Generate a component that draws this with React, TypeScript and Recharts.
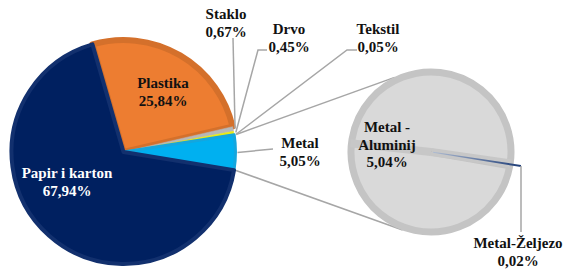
import { Cell, Customized, Pie, PieChart } from "recharts";

// main pie: clockwise from the Papir/Plastika boundary
const mainNames = ["Plastika", "Staklo", "Drvo", "Tekstil", "Metal", "Papir i karton"];
const mainValues = [25.84, 0.67, 0.45, 0.05, 5.05, 67.94];
const mainColors = ["#ED7D31", "#B7B7B7", "#E9E914", "#8C8C8C", "#00B0F0", "#002060"];
const mainBevel = ["#D4702B", "#B7B7B7", "#E9E914", "#8C8C8C", "#14A6DE", "#12306E"];
const mainBevelWidth = [6, 0.5, 0.5, 0.5, 3, 4];

// second pie: split of Metal
const metalNames = ["Metal -\nAluminij", "Metal-Željezo"];
const metalValues = [5.04, 0.02];
const metalColors = ["#D9D9D9", "#1F3E78"];

const FONT = '"Liberation Serif", "Times New Roman", serif';
const W = 564;
const H = 271;

const MAIN = { cx: 123.5, cy: 152, r: 112, start: 106.1 };
const SUB = { cx: 431, cy: 152, r: 80, start: 350.1 };
const LH = 17.5;
const GREY = "#A6A6A6";

// label anchors (first line centre) and leader bends
const mainLabelPos = [
  { x: 163, y: 83, fill: "#111" },
  { x: 226, y: 14, leader: [[233, 38]] },
  { x: 289, y: 29, leader: [[258, 50], [267, 50]] },
  { x: 378, y: 29, leader: [[347, 50], [357, 50]] },
  { x: 300, y: 143, leader: [[273, 149]] },
  { x: 67, y: 173, fill: "#fff" },
];
const metalLabelPos = [
  { x: 387, y: 127 },
  { x: 518, y: 243, leader: [[521, 166], [521, 232]] },
];

const pct = (v: number) => v.toFixed(2).replace(".", ",") + "%";

function polar(cx: number, cy: number, r: number, deg: number): [number, number] {
  const a = (-deg * Math.PI) / 180;
  return [cx + r * Math.cos(a), cy + r * Math.sin(a)];
}

function sliceAngles(values: number[], start: number) {
  const total = values.reduce((s, v) => s + v, 0);
  let a = start;
  return values.map((v) => {
    const s = a;
    const e = a - (360 * v) / total;
    a = e;
    return { s, e, mid: (s + e) / 2 };
  });
}

const mainA = sliceAngles(mainValues, MAIN.start);
const subA = sliceAngles(metalValues, SUB.start);

function LabelText({ x, y, lines, fill }: { x: number; y: number; lines: string[]; fill?: string }) {
  return (
    <text
      x={x}
      y={y}
      textAnchor="middle"
      style={{ fontFamily: FONT, fontWeight: "bold", fontSize: 15 }}
      fill={fill ?? "#111"}
    >
      {lines.map((l, i) => (
        <tspan key={i} x={x} y={y + i * LH} dominantBaseline="central">
          {l}
        </tspan>
      ))}
    </text>
  );
}

function renderMainLabel(props: any) {
  const i = props.index as number;
  const p = mainLabelPos[i];
  const start = polar(MAIN.cx, MAIN.cy, MAIN.r + 2, mainA[i].mid);
  const pts = p.leader ? [start, ...p.leader] : null;
  return (
    <g key={"ml" + i}>
      {pts && (
        <polyline
          points={pts.map((q) => q.join(",")).join(" ")}
          fill="none"
          stroke={GREY}
          strokeWidth={1.5}
        />
      )}
      <LabelText x={p.x} y={p.y} fill={p.fill} lines={[mainNames[i], pct(mainValues[i])]} />
    </g>
  );
}

function renderMetalLabel(props: any) {
  const i = props.index as number;
  const p = metalLabelPos[i];
  const mid = subA[1].mid;
  // bevel band that crosses the second pie
  const bandA = polar(SUB.cx, SUB.cy, SUB.r + 1, mid + 183);
  const bandB = polar(SUB.cx, SUB.cy, SUB.r + 1, mid + 1);
  const inner = polar(SUB.cx, SUB.cy, 2, mid);
  return (
    <g key={"sl" + i}>
      {i === 0 && (
        <>
          <line x1={bandA[0]} y1={bandA[1]} x2={SUB.cx} y2={SUB.cy} stroke="#C7C7C7" strokeWidth={8} />
          <line x1={SUB.cx} y1={SUB.cy} x2={bandB[0]} y2={bandB[1]} stroke="#C7C7C7" strokeWidth={8} />
        </>
      )}
      {p.leader && (
        <>
          <defs>
            <linearGradient id="zeljezo" x1="0" y1="0" x2="1" y2="0">
              <stop offset="0" stopColor="#AFBCD2" />
              <stop offset="1" stopColor={metalColors[1]} />
            </linearGradient>
          </defs>
          <polygon
            points={[
              [inner[0], inner[1] - 0.5],
              [p.leader[0][0], p.leader[0][1] - 1],
              [p.leader[0][0], p.leader[0][1] + 1],
              [inner[0], inner[1] + 0.5],
            ]
              .map((q) => q.join(","))
              .join(" ")}
            fill="url(#zeljezo)"
          />
          <polyline
            points={p.leader.map((q) => q.join(",")).join(" ")}
            fill="none"
            stroke={GREY}
            strokeWidth={1.5}
          />
        </>
      )}
      <LabelText
        x={p.x}
        y={p.y}
        lines={[...metalNames[i].split("\n"), pct(metalValues[i])]}
      />
    </g>
  );
}

function Connectors() {
  const metal = mainA[4];
  const t0 = polar(MAIN.cx, MAIN.cy, MAIN.r + 2, metal.s);
  const t1 = polar(SUB.cx, SUB.cy, SUB.r + 3, 116);
  const b0 = polar(MAIN.cx, MAIN.cy, MAIN.r + 2, metal.e);
  const b1 = polar(SUB.cx, SUB.cy, SUB.r + 3, -110);
  return (
    <g>
      <line x1={t0[0]} y1={t0[1]} x2={t1[0]} y2={t1[1]} stroke={GREY} strokeWidth={1.5} />
      <line x1={b0[0]} y1={b0[1]} x2={b1[0]} y2={b1[1]} stroke={GREY} strokeWidth={1.5} />
    </g>
  );
}

export default function App() {
  const mainData = mainNames.map((name, i) => ({ name, value: mainValues[i] }));
  const metalData = metalNames.map((name, i) => ({ name, value: metalValues[i] }));

  return (
    <div style={{ position: "absolute", left: 0, top: 0, width: W, height: H, background: "#fff" }}>
      <PieChart width={W} height={H} margin={{ top: 0, right: 0, bottom: 0, left: 0 }}>
        <Customized component={Connectors} />
        <Pie
          data={mainData}
          dataKey="value"
          nameKey="name"
          cx={MAIN.cx}
          cy={MAIN.cy}
          outerRadius={MAIN.r}
          startAngle={MAIN.start}
          endAngle={MAIN.start - 360}
          label={renderMainLabel}
          labelLine={false}
          isAnimationActive={false}
        >
          {mainData.map((d, i) => (
            <Cell
              key={d.name}
              fill={mainColors[i]}
              stroke={mainBevel[i]}
              strokeWidth={mainBevelWidth[i]}
              strokeLinejoin="round"
            />
          ))}
        </Pie>
        <Pie
          data={metalData}
          dataKey="value"
          nameKey="name"
          cx={SUB.cx}
          cy={SUB.cy}
          outerRadius={SUB.r}
          startAngle={SUB.start}
          endAngle={SUB.start - 360}
          label={renderMetalLabel}
          labelLine={false}
          isAnimationActive={false}
        >
          <Cell fill={metalColors[0]} stroke="#C4C4C4" strokeWidth={7} strokeLinejoin="round" />
          <Cell fill={metalColors[1]} stroke={metalColors[1]} strokeWidth={1.2} />
        </Pie>
      </PieChart>
    </div>
  );
}
